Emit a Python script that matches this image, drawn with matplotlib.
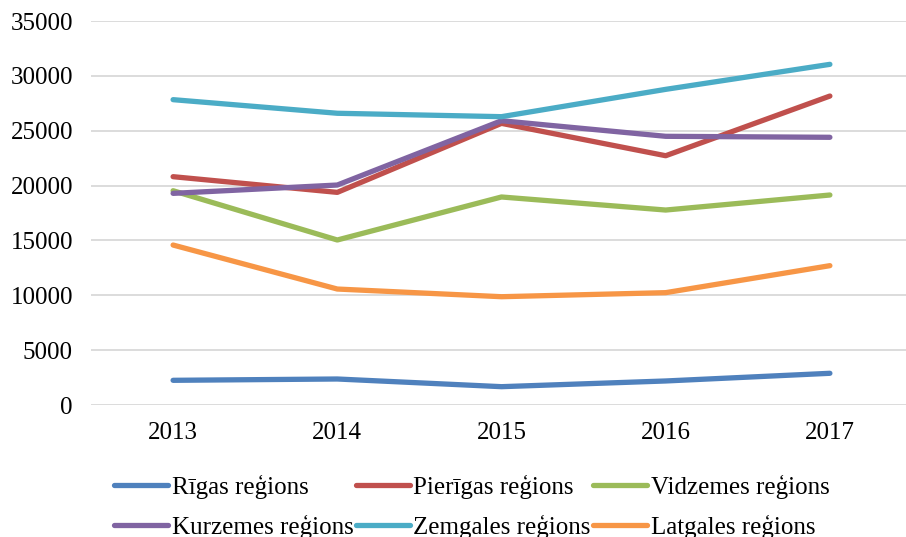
import matplotlib
matplotlib.use("Agg")
import matplotlib.pyplot as plt

plt.rcParams['font.family'] = ['Liberation Serif', 'DejaVu Serif']

years = ["2013", "2014", "2015", "2016", "2017"]

rigas = [2250, 2370, 1670, 2190, 2890]
pierigas = [20810, 19380, 25670, 22720, 28160]
vidzemes = [19530, 15040, 18960, 17770, 19140]
kurzemes = [19290, 20050, 25910, 24490, 24400]
zemgales = [27830, 26590, 26280, 28770, 31050]
latgales = [14580, 10570, 9870, 10240, 12700]

series = [
    ("Rīgas reģions", rigas, "#4F81BD"),
    ("Pierīgas reģions", pierigas, "#C0504D"),
    ("Vidzemes reģions", vidzemes, "#9BBB59"),
    ("Kurzemes reģions", kurzemes, "#8064A2"),
    ("Zemgales reģions", zemgales, "#4BACC6"),
    ("Latgales reģions", latgales, "#F79646"),
]

fig = plt.figure(figsize=(9.06, 5.37), dpi=100)
ax = fig.add_axes([91 / 906, 1 - 405 / 537, 815 / 906, 384 / 537])

x = range(len(years))
lines = []
for name, vals, color in series:
    ln, = ax.plot(x, vals, color=color, linewidth=3.8, solid_capstyle='round',
                  solid_joinstyle='round', label=name)
    lines.append(ln)

ax.set_ylim(0, 35000)
ax.set_yticks(range(0, 35001, 5000))
ax.set_xlim(-0.5, 4.5 - 6 / 164.5)
ax.set_xticks(list(x))
ax.set_xticklabels(years)
ax.grid(axis='y', color='#D9D9D9', linewidth=1.3)
ax.set_axisbelow(True)
for s in ax.spines.values():
    s.set_visible(False)
ax.tick_params(length=0, labelsize=18, colors='black')
ax.tick_params(axis='y', pad=13)
ax.tick_params(axis='x', pad=12)

# legend is filled column by column, so reorder to read row by row
order = [0, 3, 1, 4, 2, 5]
fig.legend([lines[i] for i in order], [series[i][0] for i in order],
           loc='upper left', bbox_to_anchor=(114 / 906, 1 - 475 / 537),
           ncol=3, frameon=False, fontsize=18, handlelength=2.15,
           handletextpad=0.15, columnspacing=0.1, labelspacing=0.62,
           borderpad=0, borderaxespad=0)

fig.savefig("out.png", dpi=100)
